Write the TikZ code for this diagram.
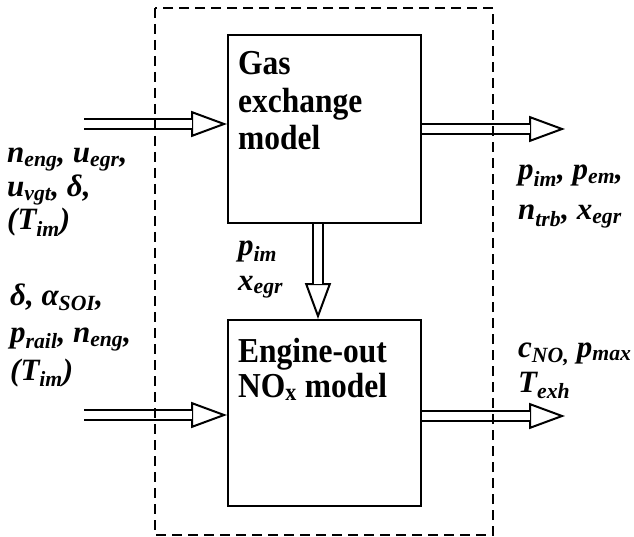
\documentclass[tikz,border=0pt]{standalone}
\usepackage{fontspec}
\setmainfont{Liberation Serif}
\newfontfamily\titlefont[FakeStretch=0.9]{Liberation Serif}
\usetikzlibrary{arrows.meta}
\tikzstyle{block} = [rectangle, draw, line width=2pt, inner sep=0pt]
\tikzstyle{title} = [font=\fontsize{35}{37.5}\selectfont\titlefont\bfseries, align=left, inner sep=0pt, anchor=base west]
\tikzstyle{var} = [font=\fontsize{31}{33.5}\selectfont\bfseries\itshape, align=left, inner sep=0pt, anchor=base west]
\tikzstyle{fathead} = [draw, line width=2pt, -{Triangle[length=36pt, width=26pt, fill=white]}]
\tikzstyle{fatbody} = [draw, line width=2pt, double, double distance=8.5pt, shorten >=35pt]
\tikzstyle{frame} = [draw, line width=2.2pt, dash pattern=on 10pt off 6pt]
\newcommand{\ix}[1]{\textsubscript{#1}}
\newcommand{\fatarrow}[2]{\path[fathead] #1 -- #2; \path[fatbody] #1 -- #2;}

\begin{document}
\begin{tikzpicture}[x=1pt, y=-1pt]
    \useasboundingbox (0,0) rectangle (634,537);
    % Place nodes
    \node [block, minimum width=193pt, minimum height=188pt] (gas) at (324.5,129) {};
    \node [block, minimum width=193pt, minimum height=186pt] (nox) at (324.5,413) {};
    \node [title] (gastext) at (238,150) {Gas\\exchange\\model};
    \node [title, font=\fontsize{35}{35}\selectfont\titlefont\bfseries] (noxtext) at (238,397) {Engine-out\\NO\ix{x} model};
    \node [var] (ina) at (7,230) {n\ix{eng}, u\ix{egr},\\u\ix{vgt}, δ,\\(T\ix{im})};
    \node [var, font=\fontsize{31}{37.5}\selectfont\bfseries\itshape] (inb) at (10,380) {δ, α\ix{SOI},\\p\ix{rail}, n\ix{eng},\\(T\ix{im})};
    \node [var, font=\fontsize{31}{40}\selectfont\bfseries\itshape] (outa) at (518,220) {p\ix{im}, p\ix{em},\\n\ix{trb}, x\ix{egr}};
    \node [var, font=\fontsize{31}{35}\selectfont\bfseries\itshape] (outb) at (518,392) {c\ix{NO,} p\ix{max}\\T\ix{exh}};
    \node [var, font=\fontsize{31}{35}\selectfont\bfseries\itshape] (mid) at (238,290) {p\ix{im}\\x\ix{egr}};
    \coordinate (ina-start) at (84,124);
    \coordinate (inb-start) at (84,415);
    \coordinate (outa-end) at (565,129);
    \coordinate (outb-end) at (565,416);
    % Draw edges
    \fatarrow{(ina-start)}{(ina-start -| gas.west)}
    \fatarrow{(inb-start)}{(inb-start -| nox.west)}
    \fatarrow{(gas.east)}{(outa-end)}
    \fatarrow{(nox.east |- outb-end)}{(outb-end)}
    \fatarrow{([xshift=-6.5pt]gas.south)}{([xshift=-6.5pt]nox.north)}
    \draw [frame] (155,8) rectangle (493,535);
\end{tikzpicture}
\end{document}
